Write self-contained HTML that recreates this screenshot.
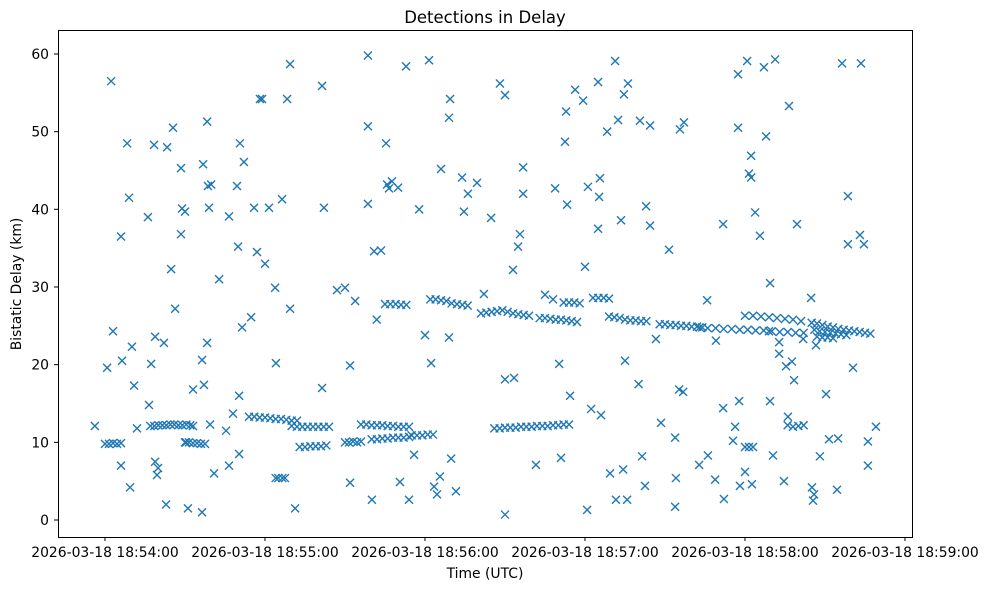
<!DOCTYPE html>
<html><head><meta charset="utf-8"><style>
html,body{margin:0;padding:0;background:#fff;}
svg{display:block;font-family:"DejaVu Sans","Liberation Sans",sans-serif;}
</style></head><body>
<svg id="chart" width="989" height="590" viewBox="0 0 989 590">
<rect x="0" y="0" width="989" height="590" fill="#fff"/>
<text x="485" y="23" font-size="16.5" text-anchor="middle" fill="#000">Detections in Delay</text>
<g id="marks"></g>
<rect x="58.5" y="30.5" width="854" height="507" fill="none" stroke="#000" stroke-width="1"/>
<g id="xticks"></g>
<g id="yticks"></g>
<text x="485" y="578" font-size="13.9" text-anchor="middle">Time (UTC)</text>
<text x="0" y="0" font-size="13.9" text-anchor="middle" transform="translate(21,284) rotate(-90)">Bistatic Delay (km)</text>
</svg>
<script>
// seconds after 2026-03-18 18:54:00
const times = [
-3.8,0.8,2.3,3,6,6,6.4,8.3,9,9.4,10.1,10.9,12,16.1,16.5,17.3,18.4,18.8,18.8,19.9,19.5,22.1,22.9,23.3,24.8,25.5,26.3,28.5,28.5,28.9,30,30.4,31.1,33,36.4,36.4,36.8,37.1,38.3,38.3,38.6,39,39.4,39.8,40.9,42.8,45.4,46.5,46.5,48,49.5,49.9,50.3,50.3,50.6,51.4,52.1,54.8,55.9,57,58.1,58.9,60,61.5,63.8,64.1,66.4,68.3,69.4,69.4,71.3,81.4,82.1,81.4,87,90,91.9,91.9,93.8,98.6,98.6,98.6,100.1,100.9,101.9,103.5,105.4,105.8,106.5,107.6,109.9,110.6,112.9,114,115.9,117.8,120,121.5,122.3,123.4,124.5,125.6,126,129,129,129.4,129.8,131.6,133.9,134.6,136.1,139.5,142.1,144.8,148.1,150,150,150,153,153.4,154.9,155.6,156.8,156.8,161.6,165,168,168.8,170.3,171,172.5,172.9,173.3,174.4,176.3,179.3,180,180.8,181.1,182.3,184.9,184.9,185.3,185.6,186,188.3,189.4,191.3,191.6,192.4,193.5,194.3,194.6,195,195.8,196.1,200.1,200.6,201.4,202.5,202.9,204.4,204.4,206.6,208.5,211.5,213.8,213.8,214.1,215.3,215.6,216.8,217.1,222.8,225.8,226.1,228.8,229.1,231.8,231.8,232.1,235.5,236.3,237.4,237.4,237.8,238.1,240,240.8,241.5,242.3,242.3,242.6,243.8,245.6,247.1,247.9,249.4,249.4,250.5,251.3,252.8,252.8,254.6,255.4,256.1,256.5,257.6,258.4,259.5,261.8,264.8,265.1,265.5,265.9,266.6,268.1,270.4,271.5,274.5,274.9,276.4,278.6,278.6,280.5,283.1,283.5,284.6,286.1,286.1,289.1,
64,65,66.5,67.5,240,241.5,243,
0,1.5,3,4.5,6,
17,18.5,20,21.5,23,24.5,26,27.5,29,30.5,32,33,
30,31.5,33,34.5,36,37.5,
54,56,58,60,62,64,66,68,70,72,
70,72,74,76,78,80,82,84,
73,75,77,79,81,83,
90,91.5,93,94.5,96,
96,98,100,102,104,106,108,110,112,114,
100,102,104,106,108,110,112,114,
115,117,119,121,123,
146,148,150,152,154,156,158,160,162,164,166,168,170,172,174,
105,107,109,111,113,
122,124,126,128,130,132,134,136,
141,143,145,147,149,151,153,155,157,159,
163,165,167,169,171,173,175,177,
172,174,176,178,
183,185,187,189,
189,191,193,195,197,199,201,203,
208,210,212,214,216,218,220,222,224,
223,226,229,232,235,238,241,244,247,249,
240,243,246,249,252,255,258,261,
250,253,256,259,262,
256,258,260,262,
265,267,269,271,273,275,277,279,281,283,285,287,
266,268,270,272,274,276,278,
267,269,271,273
];
const delays = [
12.1,19.6,56.5,24.3,36.5,7,20.5,48.5,41.5,4.2,22.3,17.3,11.8,39,14.8,20.1,48.3,23.6,7.5,6.7,5.8,22.8,2,48,32.3,50.5,27.2,45.3,36.8,40.1,39.7,10,1.5,16.8,20.6,1,45.8,17.4,51.3,22.8,43,40.2,12.3,43.2,6,31,11.5,39.1,7,13.7,43,35.2,16,8.5,48.5,24.8,46.1,26.1,40.2,34.5,54.2,54.2,33,40.2,29.9,20.2,41.3,54.2,27.2,58.7,1.5,55.9,40.2,17,29.6,29.9,19.9,4.8,28.2,50.7,59.8,40.7,2.6,34.6,25.8,34.7,48.5,43.2,42.7,43.6,42.8,4.9,58.4,2.6,8.4,40,23.8,59.2,20.2,4.3,3.3,5.6,45.2,51.8,23.5,54.2,7.9,3.7,44.1,39.7,42,43.4,29.1,38.9,56.2,18.1,0.7,54.7,32.2,18.3,35.2,36.8,45.4,42,7.1,29,28.4,42.7,20.1,8,48.7,52.6,40.6,16,55.4,54,32.6,1.3,42.9,14.3,56.4,37.5,41.6,44,13.5,50,6,59.1,2.6,51.5,38.6,6.5,54.8,20.5,2.6,56.2,17.5,51.4,8.2,4.4,40.4,50.8,37.9,23.3,12.5,34.8,10.6,1.7,5.4,16.8,50.3,16.5,51.2,7.1,28.3,8.3,5.2,23.1,38.1,14.4,2.7,10.2,12,50.5,57.4,15.3,4.4,6.2,59.1,44.6,46.9,44.1,4.6,39.6,36.6,58.3,49.4,15.3,30.5,8.3,59.3,22.9,21.4,5,19.8,13.3,53.3,20.4,18,38.1,23.3,28.6,4.2,2.5,3.3,22.5,8.2,16.2,10.4,3.9,10.5,58.8,35.5,41.7,19.6,36.7,58.8,35.5,10.1,7,12,
5.4,5.4,5.4,5.4,9.4,9.4,9.4,
9.8,9.8,9.9,9.8,9.9,
12.1,12.1,12.2,12.2,12.2,12.3,12.3,12.2,12.2,12.3,12.2,12.1,
10,10,9.9,9.9,9.8,9.8,
13.3,13.3,13.2,13.2,13.1,13,13,12.9,12.8,12.8,
12.1,12,12,12,12,12,12,12,
9.4,9.4,9.5,9.5,9.5,9.6,
10,10,10.1,10,10.1,
12.3,12.3,12.2,12.2,12.2,12.1,12.1,12,12,12,
10.4,10.4,10.5,10.5,10.6,10.6,10.6,10.7,
10.9,10.9,10.9,11,11,
11.8,11.8,11.9,11.9,11.9,12,12,12,12.1,12.1,12.1,12.2,12.2,12.3,12.3,
27.8,27.8,27.8,27.7,27.7,
28.4,28.4,28.3,28.2,27.9,27.8,27.7,27.6,
26.6,26.7,26.8,26.9,27,26.8,26.6,26.5,26.4,26.3,
26,26,25.9,25.8,25.8,25.7,25.6,25.5,
28,28,28,27.9,
28.6,28.6,28.6,28.5,
26.2,26.1,26,25.8,25.7,25.7,25.6,25.6,
25.2,25.2,25.1,25.1,25,25,24.9,24.9,24.8,
24.8,24.7,24.7,24.6,24.6,24.5,24.5,24.4,24.4,24.3,
26.3,26.3,26.2,26.1,26,25.9,25.8,25.6,
24.3,24.2,24.2,24.1,24.1,
12.2,12,12.1,12.2,
25.4,25.3,25.1,24.9,24.8,24.6,24.5,24.4,24.3,24.2,24.1,24,
24.5,24.3,24.2,24.1,24,23.9,23.8,
23.6,23.5,23.5,23.4
];
const xTickSecs = [0,60,120,180,240,300];
const xTickLabels = ["2026-03-18 18:54:00","2026-03-18 18:55:00","2026-03-18 18:56:00","2026-03-18 18:57:00","2026-03-18 18:58:00","2026-03-18 18:59:00"];
const yTicks = [0,10,20,30,40,50,60];

const NS = "http://www.w3.org/2000/svg";
function xScale(s){ return 105 + s * (160/60); }
function yScale(d){ return 520 - d * (466/60); }

const marks = document.getElementById('marks');
const n = Math.min(times.length, delays.length);
for (let i = 0; i < n; i++) {
  const cx = xScale(times[i]), cy = yScale(delays[i]), r = 4;
  const p = document.createElementNS(NS, 'path');
  p.setAttribute('d', `M${cx-r},${cy-r}L${cx+r},${cy+r}M${cx-r},${cy+r}L${cx+r},${cy-r}`);
  p.setAttribute('stroke', '#1f77b4');
  p.setAttribute('stroke-width', '1.4');
  p.setAttribute('fill', 'none');
  
  
  marks.appendChild(p);
}

const xg = document.getElementById('xticks');
xTickSecs.forEach((s, i) => {
  const x = xScale(s);
  const l = document.createElementNS(NS, 'line');
  l.setAttribute('x1', x); l.setAttribute('x2', x);
  l.setAttribute('y1', 537); l.setAttribute('y2', 541);
  l.setAttribute('stroke', '#000');
  
  
  xg.appendChild(l);
  const t = document.createElementNS(NS, 'text');
  t.setAttribute('x', x); t.setAttribute('y', 557);
  t.setAttribute('font-size', '13.9'); t.setAttribute('text-anchor', 'middle');
  t.textContent = xTickLabels[i];
  
  
  xg.appendChild(t);
});

const yg = document.getElementById('yticks');
yTicks.forEach(v => {
  const y = yScale(v);
  const l = document.createElementNS(NS, 'line');
  l.setAttribute('x1', 54); l.setAttribute('x2', 58);
  l.setAttribute('y1', y); l.setAttribute('y2', y);
  l.setAttribute('stroke', '#000');
  
  
  yg.appendChild(l);
  const t = document.createElementNS(NS, 'text');
  t.setAttribute('x', 49); t.setAttribute('y', y + 5);
  t.setAttribute('font-size', '13.9'); t.setAttribute('text-anchor', 'end');
  t.textContent = v;
  
  
  yg.appendChild(t);
});
</script>
</body></html>
